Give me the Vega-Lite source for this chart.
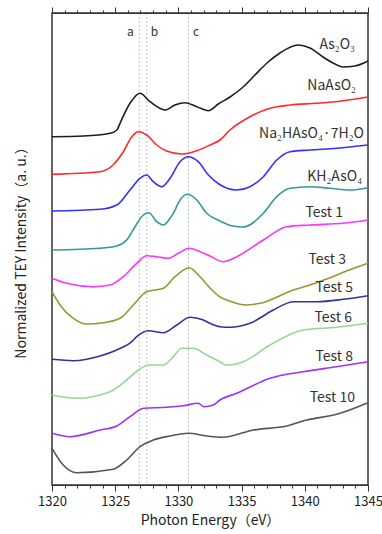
{
  "$schema": "https://vega.github.io/schema/vega-lite/v6.json",
  "width": 316,
  "height": 472,
  "autosize": {"type": "none"},
  "padding": {"left": 52, "top": 13, "right": 14, "bottom": 49},
  "background": "white",
  "config": {
    "view": {"stroke": "#333", "strokeWidth": 1.5},
    "font": "Noto Sans CJK JP",
    "text": {"font": "Noto Sans CJK JP"}
  },
  "datasets": {
    "refs": [
      {"name": "a", "e": 1326.9, "tx": 1326.2, "ty": 453},
      {"name": "b", "e": 1327.5, "tx": 1328.1, "ty": 453},
      {"name": "c", "e": 1330.8, "tx": 1331.4, "ty": 453}
    ],
    "spectra": [
      {"s": "As2O3", "e": 1320.0, "v": 348.3},
      {"s": "As2O3", "e": 1322.5, "v": 349.0},
      {"s": "As2O3", "e": 1324.59, "v": 351.7},
      {"s": "As2O3", "e": 1325.14, "v": 355.0},
      {"s": "As2O3", "e": 1325.38, "v": 361.7},
      {"s": "As2O3", "e": 1326.17, "v": 381.7},
      {"s": "As2O3", "e": 1326.96, "v": 391.7},
      {"s": "As2O3", "e": 1327.75, "v": 383.3},
      {"s": "As2O3", "e": 1328.94, "v": 375.0},
      {"s": "As2O3", "e": 1329.73, "v": 380.0},
      {"s": "As2O3", "e": 1330.52, "v": 382.3},
      {"s": "As2O3", "e": 1331.45, "v": 378.3},
      {"s": "As2O3", "e": 1332.37, "v": 374.3},
      {"s": "As2O3", "e": 1333.16, "v": 381.0},
      {"s": "As2O3", "e": 1334.08, "v": 388.0},
      {"s": "As2O3", "e": 1335.03, "v": 397.0},
      {"s": "As2O3", "e": 1336.06, "v": 410.0},
      {"s": "As2O3", "e": 1337.01, "v": 422.0},
      {"s": "As2O3", "e": 1338.04, "v": 432.0},
      {"s": "As2O3", "e": 1339.46, "v": 440.0},
      {"s": "As2O3", "e": 1340.41, "v": 437.0},
      {"s": "As2O3", "e": 1341.44, "v": 428.0},
      {"s": "As2O3", "e": 1342.39, "v": 421.0},
      {"s": "As2O3", "e": 1343.02, "v": 418.0},
      {"s": "As2O3", "e": 1343.97, "v": 419.0},
      {"s": "As2O3", "e": 1345.0, "v": 424.0},

      {"s": "NaAsO2", "e": 1320.0, "v": 310.7},
      {"s": "NaAsO2", "e": 1323.8, "v": 313.3},
      {"s": "NaAsO2", "e": 1324.83, "v": 320.0},
      {"s": "NaAsO2", "e": 1325.64, "v": 333.3},
      {"s": "NaAsO2", "e": 1326.31, "v": 348.3},
      {"s": "NaAsO2", "e": 1326.83, "v": 353.3},
      {"s": "NaAsO2", "e": 1327.49, "v": 350.0},
      {"s": "NaAsO2", "e": 1328.28, "v": 340.0},
      {"s": "NaAsO2", "e": 1329.07, "v": 334.0},
      {"s": "NaAsO2", "e": 1330.26, "v": 331.0},
      {"s": "NaAsO2", "e": 1331.45, "v": 334.3},
      {"s": "NaAsO2", "e": 1332.5, "v": 340.0},
      {"s": "NaAsO2", "e": 1333.29, "v": 345.0},
      {"s": "NaAsO2", "e": 1334.08, "v": 355.0},
      {"s": "NaAsO2", "e": 1335.66, "v": 368.3},
      {"s": "NaAsO2", "e": 1337.25, "v": 376.7},
      {"s": "NaAsO2", "e": 1338.83, "v": 380.0},
      {"s": "NaAsO2", "e": 1340.94, "v": 381.7},
      {"s": "NaAsO2", "e": 1343.05, "v": 384.3},
      {"s": "NaAsO2", "e": 1345.0, "v": 388.0},

      {"s": "Na2HAsO4", "e": 1320.0, "v": 274.0},
      {"s": "Na2HAsO4", "e": 1323.8, "v": 275.7},
      {"s": "Na2HAsO4", "e": 1325.12, "v": 280.0},
      {"s": "Na2HAsO4", "e": 1326.17, "v": 295.0},
      {"s": "Na2HAsO4", "e": 1326.96, "v": 306.7},
      {"s": "Na2HAsO4", "e": 1327.49, "v": 310.0},
      {"s": "Na2HAsO4", "e": 1328.01, "v": 303.3},
      {"s": "Na2HAsO4", "e": 1328.68, "v": 298.3},
      {"s": "Na2HAsO4", "e": 1329.34, "v": 306.7},
      {"s": "Na2HAsO4", "e": 1330.13, "v": 323.3},
      {"s": "Na2HAsO4", "e": 1330.78, "v": 328.3},
      {"s": "Na2HAsO4", "e": 1331.57, "v": 323.3},
      {"s": "Na2HAsO4", "e": 1332.37, "v": 310.0},
      {"s": "Na2HAsO4", "e": 1333.2, "v": 301.0},
      {"s": "Na2HAsO4", "e": 1334.61, "v": 295.0},
      {"s": "Na2HAsO4", "e": 1335.66, "v": 298.3},
      {"s": "Na2HAsO4", "e": 1336.72, "v": 308.3},
      {"s": "Na2HAsO4", "e": 1337.78, "v": 325.0},
      {"s": "Na2HAsO4", "e": 1338.83, "v": 333.3},
      {"s": "Na2HAsO4", "e": 1340.41, "v": 335.0},
      {"s": "Na2HAsO4", "e": 1342.52, "v": 336.7},
      {"s": "Na2HAsO4", "e": 1345.0, "v": 340.0},

      {"s": "KH2AsO4", "e": 1320.0, "v": 235.0},
      {"s": "KH2AsO4", "e": 1323.8, "v": 236.7},
      {"s": "KH2AsO4", "e": 1325.12, "v": 239.0},
      {"s": "KH2AsO4", "e": 1325.91, "v": 245.0},
      {"s": "KH2AsO4", "e": 1326.57, "v": 258.3},
      {"s": "KH2AsO4", "e": 1327.22, "v": 270.0},
      {"s": "KH2AsO4", "e": 1327.67, "v": 272.3},
      {"s": "KH2AsO4", "e": 1328.28, "v": 263.3},
      {"s": "KH2AsO4", "e": 1328.81, "v": 260.0},
      {"s": "KH2AsO4", "e": 1329.34, "v": 266.7},
      {"s": "KH2AsO4", "e": 1329.6, "v": 271.7},
      {"s": "KH2AsO4", "e": 1330.13, "v": 285.0},
      {"s": "KH2AsO4", "e": 1330.7, "v": 290.7},
      {"s": "KH2AsO4", "e": 1331.45, "v": 285.0},
      {"s": "KH2AsO4", "e": 1332.24, "v": 271.7},
      {"s": "KH2AsO4", "e": 1333.29, "v": 264.0},
      {"s": "KH2AsO4", "e": 1334.3, "v": 259.0},
      {"s": "KH2AsO4", "e": 1335.1, "v": 258.0},
      {"s": "KH2AsO4", "e": 1336.72, "v": 271.7},
      {"s": "KH2AsO4", "e": 1337.78, "v": 288.3},
      {"s": "KH2AsO4", "e": 1338.83, "v": 296.7},
      {"s": "KH2AsO4", "e": 1340.41, "v": 298.3},
      {"s": "KH2AsO4", "e": 1341.99, "v": 296.7},
      {"s": "KH2AsO4", "e": 1343.58, "v": 295.0},
      {"s": "KH2AsO4", "e": 1345.0, "v": 297.3},

      {"s": "Test 1", "e": 1320.0, "v": 206.7},
      {"s": "Test 1", "e": 1321.16, "v": 201.7},
      {"s": "Test 1", "e": 1323.27, "v": 198.3},
      {"s": "Test 1", "e": 1324.59, "v": 200.0},
      {"s": "Test 1", "e": 1325.64, "v": 208.3},
      {"s": "Test 1", "e": 1326.7, "v": 221.7},
      {"s": "Test 1", "e": 1327.49, "v": 229.3},
      {"s": "Test 1", "e": 1328.28, "v": 228.3},
      {"s": "Test 1", "e": 1329.2, "v": 226.7},
      {"s": "Test 1", "e": 1329.99, "v": 231.7},
      {"s": "Test 1", "e": 1330.86, "v": 236.7},
      {"s": "Test 1", "e": 1331.71, "v": 233.3},
      {"s": "Test 1", "e": 1332.5, "v": 229.0},
      {"s": "Test 1", "e": 1333.55, "v": 223.3},
      {"s": "Test 1", "e": 1334.61, "v": 228.3},
      {"s": "Test 1", "e": 1336.72, "v": 245.0},
      {"s": "Test 1", "e": 1338.57, "v": 258.3},
      {"s": "Test 1", "e": 1340.41, "v": 260.0},
      {"s": "Test 1", "e": 1343.05, "v": 261.7},
      {"s": "Test 1", "e": 1345.0, "v": 265.0},

      {"s": "Test 3", "e": 1320.0, "v": 193.3},
      {"s": "Test 3", "e": 1320.63, "v": 180.0},
      {"s": "Test 3", "e": 1321.69, "v": 166.7},
      {"s": "Test 3", "e": 1322.75, "v": 161.0},
      {"s": "Test 3", "e": 1324.06, "v": 162.3},
      {"s": "Test 3", "e": 1325.38, "v": 166.7},
      {"s": "Test 3", "e": 1326.43, "v": 180.0},
      {"s": "Test 3", "e": 1327.49, "v": 193.3},
      {"s": "Test 3", "e": 1328.81, "v": 196.7},
      {"s": "Test 3", "e": 1329.73, "v": 208.3},
      {"s": "Test 3", "e": 1330.86, "v": 217.3},
      {"s": "Test 3", "e": 1331.71, "v": 208.3},
      {"s": "Test 3", "e": 1332.5, "v": 197.0},
      {"s": "Test 3", "e": 1333.3, "v": 188.0},
      {"s": "Test 3", "e": 1333.82, "v": 185.0},
      {"s": "Test 3", "e": 1335.4, "v": 180.0},
      {"s": "Test 3", "e": 1336.46, "v": 181.7},
      {"s": "Test 3", "e": 1339.09, "v": 195.0},
      {"s": "Test 3", "e": 1340.41, "v": 200.0},
      {"s": "Test 3", "e": 1341.73, "v": 206.0},
      {"s": "Test 3", "e": 1343.31, "v": 214.0},
      {"s": "Test 3", "e": 1345.0, "v": 221.7},

      {"s": "Test 5", "e": 1320.0, "v": 125.7},
      {"s": "Test 5", "e": 1321.69, "v": 124.3},
      {"s": "Test 5", "e": 1323.8, "v": 129.0},
      {"s": "Test 5", "e": 1325.12, "v": 135.0},
      {"s": "Test 5", "e": 1326.31, "v": 143.3},
      {"s": "Test 5", "e": 1326.7, "v": 148.3},
      {"s": "Test 5", "e": 1327.62, "v": 154.3},
      {"s": "Test 5", "e": 1328.81, "v": 152.3},
      {"s": "Test 5", "e": 1329.87, "v": 160.0},
      {"s": "Test 5", "e": 1330.92, "v": 167.7},
      {"s": "Test 5", "e": 1331.97, "v": 165.0},
      {"s": "Test 5", "e": 1332.5, "v": 161.7},
      {"s": "Test 5", "e": 1333.29, "v": 158.3},
      {"s": "Test 5", "e": 1334.08, "v": 157.7},
      {"s": "Test 5", "e": 1335.66, "v": 161.7},
      {"s": "Test 5", "e": 1337.51, "v": 175.0},
      {"s": "Test 5", "e": 1339.09, "v": 183.3},
      {"s": "Test 5", "e": 1340.94, "v": 183.3},
      {"s": "Test 5", "e": 1343.05, "v": 185.7},
      {"s": "Test 5", "e": 1345.0, "v": 189.3},

      {"s": "Test 6", "e": 1320.0, "v": 90.0},
      {"s": "Test 6", "e": 1321.95, "v": 86.7},
      {"s": "Test 6", "e": 1324.59, "v": 93.3},
      {"s": "Test 6", "e": 1325.91, "v": 105.0},
      {"s": "Test 6", "e": 1326.83, "v": 115.0},
      {"s": "Test 6", "e": 1327.62, "v": 120.0},
      {"s": "Test 6", "e": 1328.81, "v": 120.0},
      {"s": "Test 6", "e": 1329.6, "v": 128.3},
      {"s": "Test 6", "e": 1330.26, "v": 136.7},
      {"s": "Test 6", "e": 1331.18, "v": 136.7},
      {"s": "Test 6", "e": 1332.24, "v": 130.0},
      {"s": "Test 6", "e": 1333.16, "v": 124.0},
      {"s": "Test 6", "e": 1333.82, "v": 120.0},
      {"s": "Test 6", "e": 1335.13, "v": 123.3},
      {"s": "Test 6", "e": 1337.25, "v": 140.0},
      {"s": "Test 6", "e": 1339.88, "v": 155.0},
      {"s": "Test 6", "e": 1342.52, "v": 157.7},
      {"s": "Test 6", "e": 1345.0, "v": 161.7},

      {"s": "Test 8", "e": 1320.0, "v": 51.7},
      {"s": "Test 8", "e": 1321.42, "v": 48.3},
      {"s": "Test 8", "e": 1323.8, "v": 55.0},
      {"s": "Test 8", "e": 1325.12, "v": 59.0},
      {"s": "Test 8", "e": 1326.17, "v": 68.3},
      {"s": "Test 8", "e": 1327.22, "v": 76.7},
      {"s": "Test 8", "e": 1329.07, "v": 77.7},
      {"s": "Test 8", "e": 1330.39, "v": 79.3},
      {"s": "Test 8", "e": 1331.57, "v": 81.7},
      {"s": "Test 8", "e": 1332.03, "v": 78.3},
      {"s": "Test 8", "e": 1332.76, "v": 80.0},
      {"s": "Test 8", "e": 1333.29, "v": 85.0},
      {"s": "Test 8", "e": 1334.61, "v": 91.7},
      {"s": "Test 8", "e": 1337.25, "v": 106.7},
      {"s": "Test 8", "e": 1339.88, "v": 113.3},
      {"s": "Test 8", "e": 1342.52, "v": 118.3},
      {"s": "Test 8", "e": 1345.0, "v": 123.3},

      {"s": "Test 10", "e": 1320.0, "v": 36.7},
      {"s": "Test 10", "e": 1320.89, "v": 20.0},
      {"s": "Test 10", "e": 1321.95, "v": 12.3},
      {"s": "Test 10", "e": 1324.85, "v": 15.7},
      {"s": "Test 10", "e": 1325.91, "v": 25.0},
      {"s": "Test 10", "e": 1326.96, "v": 38.3},
      {"s": "Test 10", "e": 1328.01, "v": 45.0},
      {"s": "Test 10", "e": 1329.34, "v": 49.0},
      {"s": "Test 10", "e": 1330.78, "v": 51.7},
      {"s": "Test 10", "e": 1332.24, "v": 49.0},
      {"s": "Test 10", "e": 1333.5, "v": 47.7},
      {"s": "Test 10", "e": 1335.93, "v": 55.0},
      {"s": "Test 10", "e": 1338.57, "v": 59.0},
      {"s": "Test 10", "e": 1340.15, "v": 65.0},
      {"s": "Test 10", "e": 1342.52, "v": 70.7},
      {"s": "Test 10", "e": 1345.0, "v": 82.3}
    ],
    "labels": [
      {"s": "As2O3", "t": "As₂O₃", "e": 1343.97, "v": 440},
      {"s": "NaAsO2", "t": "NaAsO₂", "e": 1344.05, "v": 399},
      {"s": "Na2HAsO4", "t": "Na₂HAsO₄·7H₂O", "e": 1344.68, "v": 351},
      {"s": "KH2AsO4", "t": "KH₂AsO₄", "e": 1344.53, "v": 308},
      {"s": "Test 1", "t": "Test 1", "e": 1343.02, "v": 272},
      {"s": "Test 3", "t": "Test 3", "e": 1343.26, "v": 225},
      {"s": "Test 5", "t": "Test 5", "e": 1343.81, "v": 197},
      {"s": "Test 6", "t": "Test 6", "e": 1343.73, "v": 167},
      {"s": "Test 8", "t": "Test 8", "e": 1343.81, "v": 128},
      {"s": "Test 10", "t": "Test 10", "e": 1343.97, "v": 87}
    ]
  },
  "resolve": {"axis": {"x": "independent"}},
  "layer": [
    {
      "data": {"name": "refs"},
      "mark": {"type": "rule", "color": "#c4c4c4", "strokeWidth": 1, "strokeDash": [2, 2]},
      "encoding": {
        "x": {
          "field": "e", "type": "quantitative",
          "scale": {"domain": [1320, 1345], "nice": false, "zero": false},
          "axis": {
            "orient": "top", "zindex": 1,
            "values": [1320, 1325, 1330, 1335, 1340, 1345],
            "labels": false, "title": null, "grid": false,
            "domain": true, "domainColor": "#333", "domainWidth": 1,
            "tickSize": 6, "tickColor": "#333", "tickWidth": 1
          }
        }
      }
    },
    {
      "data": {"name": "refs"},
      "mark": {"type": "text", "fontSize": 12, "color": "#333", "align": "center", "baseline": "middle"},
      "encoding": {
        "x": {
          "field": "tx", "type": "quantitative",
          "axis": {
            "orient": "top", "zindex": 1,
            "values": [1320,1321,1322,1323,1324,1325,1326,1327,1328,1329,1330,1331,1332,1333,1334,1335,1336,1337,1338,1339,1340,1341,1342,1343,1344,1345],
            "labels": false, "title": null, "grid": false,
            "domain": true, "domainColor": "#333", "domainWidth": 1,
            "tickSize": 3, "tickColor": "#333", "tickWidth": 1
          }
        },
        "y": {
          "field": "ty", "type": "quantitative",
          "axis": {
            "title": "Normalized TEY Intensity（a. u.）",
            "titleFontSize": 14, "titleFontWeight": "normal", "titleColor": "#222",
            "titlePadding": 24,
            "labels": false, "ticks": false, "domain": false, "grid": false
          }
        },
        "text": {"field": "name"}
      }
    },
    {
      "data": {"name": "spectra"},
      "mark": {"type": "line", "strokeWidth": 1.6, "interpolate": "monotone"},
      "encoding": {
        "x": {
          "field": "e", "type": "quantitative",
          "scale": {"domain": [1320, 1345], "nice": false, "zero": false},
          "axis": {
            "orient": "bottom", "zindex": 1,
            "values": [1320, 1325, 1330, 1335, 1340, 1345],
            "format": "d",
            "title": "Photon Energy（eV）",
            "titleFontSize": 14, "titleFontWeight": "normal", "titleColor": "#222",
            "titlePadding": 5,
            "labelFontSize": 13, "labelColor": "#222", "labelPadding": 4,
            "labelFlush": false, "grid": false,
            "domain": true, "domainColor": "#333", "domainWidth": 1,
            "tickSize": 6, "tickColor": "#333", "tickWidth": 1
          }
        },
        "y": {
          "field": "v", "type": "quantitative",
          "scale": {"domain": [0, 472], "nice": false, "zero": false},
          "axis": {
            "title": "Normalized TEY Intensity（a. u.）",
            "titleFontSize": 14, "titleFontWeight": "normal", "titleColor": "#222",
            "titlePadding": 24,
            "labels": false, "ticks": false, "domain": false, "grid": false
          }
        },
        "color": {
          "field": "s", "type": "nominal", "legend": null,
          "scale": {
            "domain": ["As2O3", "NaAsO2", "Na2HAsO4", "KH2AsO4", "Test 1", "Test 3", "Test 5", "Test 6", "Test 8", "Test 10"],
            "range": ["#1e1e1e", "#ff2a2a", "#3232ff", "#339a96", "#ff33ff", "#9a9632", "#32329a", "#96d696", "#9a32ff", "#555555"]
          }
        }
      }
    },
    {
      "data": {"name": "labels"},
      "mark": {"type": "text", "fontSize": 14, "color": "#333", "align": "right", "baseline": "middle"},
      "encoding": {
        "x": {
          "field": "e", "type": "quantitative",
          "axis": {
            "orient": "bottom", "zindex": 1,
            "values": [1320,1321,1322,1323,1324,1325,1326,1327,1328,1329,1330,1331,1332,1333,1334,1335,1336,1337,1338,1339,1340,1341,1342,1343,1344,1345],
            "labels": false, "title": null, "grid": false,
            "domain": true, "domainColor": "#333", "domainWidth": 1,
            "tickSize": 3, "tickColor": "#333", "tickWidth": 1
          }
        },
        "y": {
          "field": "v", "type": "quantitative",
          "axis": {
            "title": "Normalized TEY Intensity（a. u.）",
            "titleFontSize": 14, "titleFontWeight": "normal", "titleColor": "#222",
            "titlePadding": 24,
            "labels": false, "ticks": false, "domain": false, "grid": false
          }
        },
        "text": {"field": "t"}
      }
    }
  ]
}
